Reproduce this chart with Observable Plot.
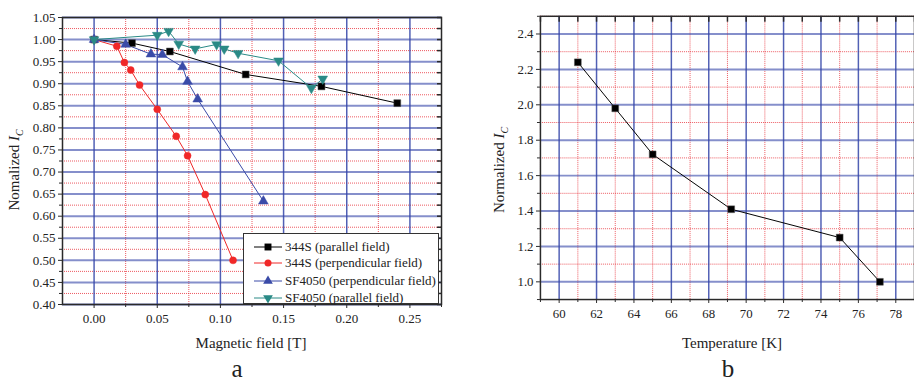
<!DOCTYPE html>
<html><head><meta charset="utf-8">
<script src="https://cdn.jsdelivr.net/npm/d3@7"></script>
<script src="https://cdn.jsdelivr.net/npm/@observablehq/plot@0.6"></script>
<style>
html,body{margin:0;padding:0;background:#fff;}
body{width:914px;height:382px;overflow:hidden;position:relative;font-family:"Liberation Serif","Times New Roman",Times,serif;color:#222;}
.panel{position:absolute;top:0;}
.lbl{position:absolute;white-space:nowrap;transform:translate(-50%,-50%);}
.ylbl{position:absolute;white-space:nowrap;transform:translate(-50%,-50%) rotate(-90deg);font-size:15px;}
.ylbl sub{font-size:10px;}
#legend{position:absolute;left:243px;top:233px;width:196px;height:71px;border:1px solid #333;background:#fff;font-size:13px;box-sizing:border-box;}
.lrow{position:absolute;left:0;height:16px;white-space:nowrap;}
.lrow svg{position:absolute;left:9px;top:0;}
.lrow span{position:absolute;left:41px;top:0;line-height:16px;}
</style></head><body>
<div id="pa" class="panel" style="left:0"></div>
<div id="pb" class="panel" style="left:460px"></div>
<div class="ylbl" style="left:15px;top:170px;">Nomalized <i>I<sub>C</sub></i></div>
<div class="ylbl" style="left:500px;top:170px;">Normalized <i>I<sub>C</sub></i></div>
<div class="lbl" style="left:251px;top:343px;font-size:15px;">Magnetic field [T]</div>
<div class="lbl" style="left:732px;top:343px;font-size:15px;">Temperature [K]</div>
<div class="lbl" style="left:237px;top:369px;font-size:25px;">a</div>
<div class="lbl" style="left:728px;top:369px;font-size:25px;">b</div>
<div id="legend"></div>
<script>
// ---- Panel a data ----
const field_344S_par = [0, 0.03, 0.06, 0.12, 0.18, 0.24];
const ic_344S_par    = [1.0, 0.992, 0.973, 0.921, 0.894, 0.856];
const field_344S_perp = [0, 0.018, 0.024, 0.029, 0.036, 0.050, 0.065, 0.074, 0.088, 0.110];
const ic_344S_perp    = [1.0, 0.985, 0.948, 0.931, 0.897, 0.842, 0.781, 0.737, 0.649, 0.500];
const field_SF_perp = [0, 0.025, 0.045, 0.054, 0.070, 0.074, 0.082, 0.134];
const ic_SF_perp    = [1.0, 0.989, 0.967, 0.966, 0.938, 0.905, 0.865, 0.634];
const field_SF_par = [0, 0.050, 0.059, 0.067, 0.080, 0.097, 0.103, 0.114, 0.146, 0.172, 0.181];
const ic_SF_par    = [1.0, 1.010, 1.019, 0.990, 0.979, 0.989, 0.979, 0.969, 0.952, 0.890, 0.911];
const seriesNames = ["344S (parallel field)", "344S (perpendicular field)", "SF4050 (perpendicular field)", "SF4050 (parallel field)"];
const xMajorA = [0, 0.05, 0.10, 0.15, 0.20, 0.25];
const xMinorA = [0.025, 0.075, 0.125, 0.175, 0.225, 0.275];
const yMajorA = [0.40, 0.45, 0.50, 0.55, 0.60, 0.65, 0.70, 0.75, 0.80, 0.85, 0.90, 0.95, 1.00, 1.05];
const yMinorA = [0.425, 0.475, 0.525, 0.575, 0.625, 0.675, 0.725, 0.775, 0.825, 0.875, 0.925, 0.975, 1.025];
// ---- Panel b data ----
const temperature = [61, 63, 65, 69.2, 75, 77.15];
const ic_temp     = [2.24, 1.98, 1.72, 1.41, 1.25, 1.00];
const xMajorB = [60, 62, 64, 66, 68, 70, 72, 74, 76, 78];
const xMinorB = [59, 61, 63, 65, 67, 69, 71, 73, 75, 77, 79];
const yMajorB = [1.0, 1.2, 1.4, 1.6, 1.8, 2.0, 2.2, 2.4];
const yMinorB = [0.9, 1.1, 1.3, 1.5, 1.7, 1.9, 2.1, 2.3, 2.5];

const BLUE = "#3344a8", RED = "#e8303a", AXIS = "#2a2a2a";
const colors = ["#000000", "#f02828", "#3a4ba8", "#2a8a86"];
const downTriangle = {draw(ctx, size){ const s3 = Math.sqrt(3); const y = Math.sqrt(size/(s3*3)); ctx.moveTo(0, 2*y); ctx.lineTo(-s3*y, -y); ctx.lineTo(s3*y, -y); ctx.closePath(); }};
const symbols = ["square", "circle", "triangle", downTriangle];
const radii = [3.9, 3.5, 3.6, 3.6];

const rows = (xs, ys) => xs.map((x, i) => ({x, y: ys[i]}));
const seriesA = [
  rows(field_344S_par, ic_344S_par),
  rows(field_344S_perp, ic_344S_perp),
  rows(field_SF_perp, ic_SF_perp),
  rows(field_SF_par, ic_SF_par)
];

const gridMarks = (xMaj, xMin, yMaj, yMin) => [
  Plot.gridX(xMin, {stroke: RED, strokeOpacity: 0.8, strokeWidth: 1, strokeDasharray: "1,1"}),
  Plot.gridY(yMin, {stroke: RED, strokeOpacity: 0.8, strokeWidth: 1, strokeDasharray: "1,1"}),
  Plot.gridX(xMaj, {stroke: BLUE, strokeOpacity: 0.85, strokeWidth: 1.5}),
  Plot.gridY(yMaj, {stroke: BLUE, strokeOpacity: 0.6, strokeWidth: 2})
];
const style = {fontFamily: '"Liberation Serif", "Times New Roman", Times, serif', fontSize: "13px", color: "#222", background: "transparent", overflow: "visible"};
const blank = () => "";

const plotA = Plot.plot({
  width: 460, height: 360, marginLeft: 62, marginRight: 19, marginTop: 17, marginBottom: 56,
  style,
  x: {domain: [-0.025, 0.275]},
  y: {domain: [0.40, 1.05]},
  marks: [
    ...gridMarks(xMajorA, xMinorA, yMajorA, yMinorA),
    ...seriesA.map((d, i) => Plot.line(d, {x: "x", y: "y", stroke: colors[i], strokeWidth: 1})),
    ...seriesA.map((d, i) => Plot.dot(d, {x: "x", y: "y", symbol: symbols[i], r: radii[i], fill: colors[i], stroke: i === 0 ? "#555" : colors[i], strokeWidth: 0.5})),
    Plot.frame({stroke: AXIS, strokeWidth: 1.5}),
    Plot.axisX(xMajorA, {tickSize: 4, tickPadding: 5, tickFormat: d3.format(".2f"), label: null, stroke: AXIS}),
    Plot.axisX(xMinorA, {tickSize: 3, tickFormat: blank, label: null, stroke: AXIS}),
    Plot.axisY(yMajorA, {tickSize: 4, tickPadding: 3, tickFormat: d3.format(".2f"), label: null, stroke: AXIS}),
    Plot.axisY(yMinorA, {tickSize: 3, tickFormat: blank, label: null, stroke: AXIS}),
    Plot.axisY([...yMajorA, ...yMinorA], {anchor: "right", tickSize: -5, tickFormat: blank, label: null, stroke: AXIS, strokeWidth: 1.5})
  ]
});
document.getElementById("pa").append(plotA);

const plotB = Plot.plot({
  width: 460, height: 360, marginLeft: 81, marginRight: 0, marginTop: 16, marginBottom: 57,
  style,
  x: {domain: [59, 79]},
  y: {domain: [0.9, 2.5]},
  marks: [
    ...gridMarks(xMajorB, xMinorB, yMajorB, yMinorB),
    Plot.line(rows(temperature, ic_temp), {x: "x", y: "y", stroke: "#000", strokeWidth: 1}),
    Plot.dot(rows(temperature, ic_temp), {x: "x", y: "y", symbol: "square", r: 3.9, fill: "#000", stroke: "#555", strokeWidth: 0.5}),
    Plot.frame({stroke: AXIS, strokeWidth: 1.5}),
    Plot.axisX(xMajorB, {tickSize: 4, tickPadding: 5, tickFormat: d3.format("d"), label: null, stroke: AXIS}),
    Plot.axisX(xMinorB, {tickSize: 3, tickFormat: blank, label: null, stroke: AXIS}),
    Plot.axisX([...xMajorB, ...xMinorB], {anchor: "top", tickSize: -5, tickFormat: blank, label: null, stroke: AXIS, strokeWidth: 1.5}),
    Plot.axisY(yMajorB, {tickSize: 4, tickPadding: 3, tickFormat: d3.format(".1f"), label: null, stroke: AXIS}),
    Plot.axisY(yMinorB, {tickSize: 3, tickFormat: blank, label: null, stroke: AXIS})
  ]
});
document.getElementById("pb").append(plotB);

// Legend
const legend = document.getElementById("legend");
const rowTops = [5, 21, 39, 56];
seriesNames.forEach((name, i) => {
  const row = document.createElement("div");
  row.className = "lrow";
  row.style.top = rowTops[i] + "px";
  const sym = d3.symbol(typeof symbols[i] === "string" ? ({square: d3.symbolSquare, circle: d3.symbolCircle, triangle: d3.symbolTriangle})[symbols[i]] : symbols[i], Math.PI * radii[i] * radii[i])();
  row.innerHTML = `<svg width="30" height="16"><line x1="1" x2="29" y1="8" y2="8" stroke="${colors[i]}" stroke-width="1"/><path d="${sym}" transform="translate(15,8)" fill="${colors[i]}"/></svg><span>${name}</span>`;
  legend.append(row);
});
</script>
</body></html>
